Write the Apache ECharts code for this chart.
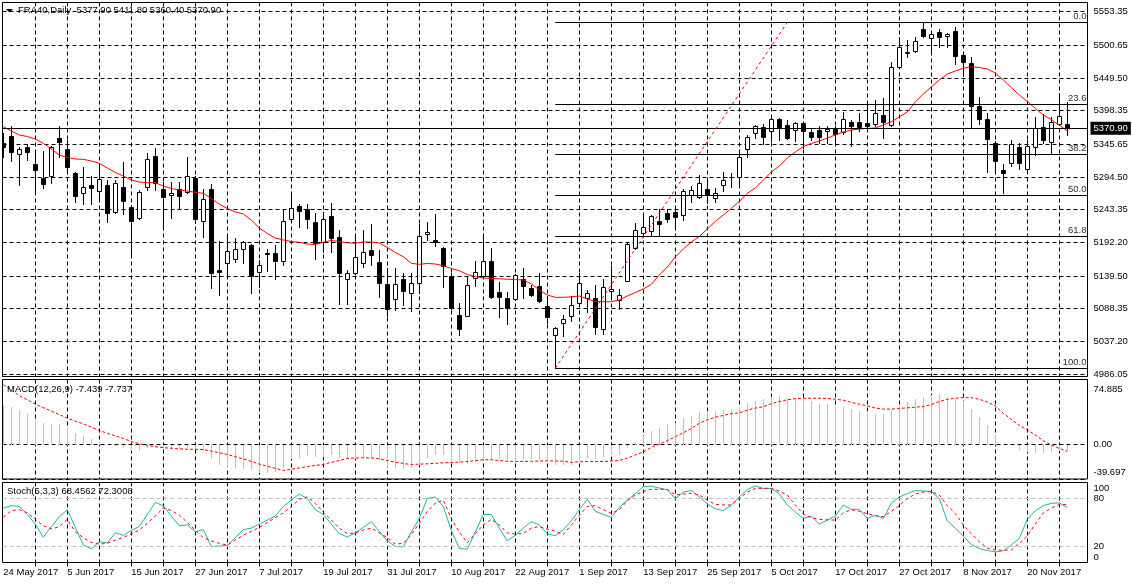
<!DOCTYPE html>
<html><head><meta charset="utf-8">
<script src="https://cdn.jsdelivr.net/npm/echarts@6/dist/echarts.min.js"></script>
<style>html,body{margin:0;padding:0;background:#fff}#c{width:1132px;height:584px}</style>
</head><body><div id="c"></div>
<script>
// ---------- DATA ----------
const opens = [5348.1,5358.6,5330.0,5341.4,5314.8,5292.4,5296.0,5356.0,5338.7,5300.2,
5268.9,5281.9,5273.0,5281.9,5240.1,5279.2,5247.0,5229.7,5279.2,5327.3,
5275.2,5265.8,5275.2,5271.4,5292.4,5226.0,5275.2,5148.8,5159.3,5166.5,
5181.2,5187.9,5145.2,5175.9,5174.9,5162.4,5228.6,5249.0,5243.8,5224.0,
5193.1,5233.3,5200.0,5134.7,5143.6,5159.3,5179.6,5161.3,5126.9,5102.9,
5134.7,5113.2,5128.9,5204.7,5195.3,5182.8,5139.9,5078.3,5077.2,5136.7,
5139.9,5162.9,5114.3,5104.9,5103.8,5135.2,5121.0,5123.7,5092.4,5047.0,
5065.3,5076.7,5096.6,5104.5,5104.5,5055.9,5115.4,5101.8,5132.0,5182.8,
5206.3,5210.3,5226.0,5238.5,5239.6,5234.4,5266.3,5262.6,5275.2,5261.1,
5281.9,5294.4,5294.0,5337.8,5362.9,5373.2,5366.5,5385.2,5375.9,5368.0,
5378.5,5364.4,5368.0,5366.5,5369.1,5365.4,5381.0,5380.1,5378.5,5377.0,
5391.1,5375.9,5466.2,5489.1,5491.7,5525.7,5511.6,5521.5,5515.2,5523.1,
5485.5,5472.5,5405.6,5385.2,5347.2,5304.9,5316.8,5341.9,5306.5,5340.9,
5372.3,5349.7,5377.0,5377.9];
const highs = [5363.3,5374.3,5341.9,5346.1,5331.5,5335.1,5343.0,5374.3,5352.4,5302.0,
5310.5,5296.5,5310.5,5289.7,5289.7,5317.4,5250.6,5274.0,5331.5,5339.8,
5287.1,5287.1,5286.1,5325.3,5296.0,5275.6,5283.5,5194.2,5202.0,5198.4,
5194.2,5189.0,5164.4,5181.7,5187.9,5242.7,5267.8,5252.1,5252.1,5238.5,
5240.1,5254.2,5211.4,5148.8,5202.0,5211.4,5220.3,5180.1,5151.4,5151.4,
5143.6,5144.5,5220.3,5223.5,5236.0,5185.3,5144.1,5096.6,5138.3,5162.9,
5203.6,5182.8,5130.5,5114.8,5142.1,5151.4,5125.3,5143.6,5108.5,5060.0,
5078.3,5108.1,5143.6,5117.5,5125.3,5134.2,5155.0,5118.6,5191.5,5221.9,
5234.9,5234.9,5243.8,5243.8,5243.8,5275.2,5280.8,5297.6,5288.2,5276.7,
5302.7,5301.2,5332.5,5360.2,5375.9,5377.0,5388.9,5387.3,5383.7,5381.0,
5381.0,5370.7,5374.8,5374.3,5374.3,5396.7,5383.7,5395.1,5408.7,5415.0,
5417.7,5474.5,5513.2,5509.0,5514.1,5537.6,5521.5,5525.7,5519.5,5528.8,
5488.1,5482.8,5419.2,5394.2,5351.3,5314.3,5352.4,5347.2,5352.4,5388.9,
5392.6,5388.9,5426.4,5411.8];
const lows = [5326.2,5319.9,5281.9,5321.0,5271.4,5277.7,5285.5,5326.2,5300.2,5255.7,
5252.1,5252.1,5257.3,5224.4,5238.5,5236.5,5170.7,5228.0,5274.1,5274.1,
5216.6,5229.7,5243.8,5269.4,5222.9,5200.9,5120.1,5109.7,5138.3,5161.8,
5159.3,5112.3,5122.6,5147.7,5135.2,5156.6,5228.0,5215.7,5215.0,5165.5,
5177.4,5177.4,5095.5,5095.5,5142.5,5153.0,5156.1,5106.5,5076.7,5086.1,
5094.0,5085.0,5113.2,5195.8,5186.8,5122.6,5087.0,5047.0,5076.0,5123.7,
5138.3,5105.0,5075.6,5064.2,5102.0,5105.4,5108.1,5099.1,5066.3,4994.8,
5045.9,5069.4,5096.0,5083.5,5048.1,5048.1,5108.1,5087.2,5131.0,5182.0,
5200.9,5202.0,5202.0,5224.4,5216.6,5227.1,5255.7,5261.1,5254.2,5255.7,
5272.5,5279.2,5281.9,5326.2,5355.0,5346.1,5350.8,5352.4,5353.5,5351.3,
5339.4,5352.4,5347.2,5347.2,5349.7,5361.8,5343.4,5366.5,5369.1,5374.3,
5355.0,5374.3,5464.6,5481.9,5490.6,5513.2,5486.6,5498.5,5498.5,5470.9,
5452.6,5373.2,5377.0,5302.7,5301.8,5268.9,5312.1,5306.5,5305.4,5328.9,
5347.2,5330.4,5375.9,5360.4];
const closes = [5341.9,5334.0,5338.3,5333.1,5305.4,5283.9,5341.4,5349.7,5310.5,5265.1,
5278.3,5276.7,5290.8,5237.6,5284.6,5257.3,5226.0,5270.5,5322.1,5285.5,
5263.6,5268.9,5265.1,5296.0,5228.6,5259.5,5143.6,5146.1,5178.5,5181.2,
5192.6,5139.9,5156.1,5173.4,5163.3,5225.0,5245.4,5241.6,5229.1,5190.6,
5229.1,5199.4,5143.6,5143.6,5168.7,5177.0,5171.8,5128.0,5087.2,5126.4,
5116.4,5128.0,5202.0,5208.3,5192.6,5155.0,5088.8,5056.4,5124.8,5146.1,
5162.9,5106.5,5106.0,5088.8,5140.5,5124.2,5109.6,5100.7,5075.6,5057.5,
5071.6,5093.5,5128.0,5112.3,5060.0,5121.7,5119.0,5109.2,5189.5,5211.4,
5216.6,5233.3,5221.3,5228.2,5232.2,5272.5,5274.1,5284.6,5266.3,5269.8,
5289.7,5295.2,5326.2,5357.5,5374.3,5357.5,5384.8,5372.3,5355.0,5378.5,
5366.5,5357.5,5357.5,5369.1,5361.8,5384.8,5374.3,5372.7,5374.8,5394.2,
5380.1,5466.2,5497.5,5490.2,5507.9,5515.2,5518.4,5514.1,5517.9,5484.4,
5474.0,5406.1,5384.8,5353.5,5319.9,5300.2,5346.1,5315.9,5343.4,5371.6,
5352.4,5380.1,5390.4,5370.9];
const maValues = [5373.2,5366.5,5360.2,5357.8,5353.9,5347.2,5338.3,5328.9,5325.0,5322.6,
5322.1,5319.5,5315.9,5308.5,5301.5,5296.0,5289.7,5286.6,5285.5,5285.5,
5280.3,5276.4,5274.1,5272.5,5270.5,5268.9,5260.7,5252.1,5245.1,5239.6,
5236.5,5227.1,5214.6,5205.9,5198.9,5195.8,5193.4,5192.2,5189.5,5188.7,
5192.2,5195.0,5193.4,5191.4,5190.7,5192.6,5192.6,5191.1,5184.0,5176.2,
5169.6,5159.3,5157.7,5159.0,5158.2,5155.5,5151.1,5147.7,5141.7,5138.3,
5136.3,5135.5,5135.0,5134.4,5133.7,5133.1,5126.9,5117.5,5109.6,5106.0,
5106.0,5106.8,5108.1,5103.4,5099.5,5099.1,5099.1,5101.8,5108.1,5113.5,
5119.0,5126.1,5140.9,5153.5,5169.1,5181.7,5192.6,5201.2,5213.0,5224.7,
5234.9,5245.1,5256.1,5268.9,5277.2,5289.7,5302.2,5311.6,5324.2,5333.6,
5342.2,5346.9,5350.8,5355.5,5360.2,5364.9,5368.0,5369.6,5370.4,5371.2,
5375.8,5381.0,5388.4,5396.2,5411.9,5424.4,5435.4,5446.3,5455.7,5460.4,
5464.6,5467.1,5465.9,5463.5,5457.3,5446.3,5434.6,5422.8,5412.7,5401.7,
5391.5,5384.5,5375.8,5366.5];
const macdMain = [46.0,42.9,39.5,34.9,29.5,24.5,23.4,23.4,19.9,13.0,
9.6,6.5,2.7,0.5,-1.5,-3.8,-6.9,-6.9,-3.8,-3.1,
-3.8,-4.2,-4.6,-3.8,-5.0,-6.9,-16.5,-23.4,-26.8,-26.8,
-28.0,-29.9,-33.0,-33.0,-31.8,-26.8,-16.5,-15.3,-13.4,-14.6,
-14.6,-11.5,-15.3,-16.5,-16.5,-15.3,-15.3,-19.0,-26.1,-26.8,
-28.0,-26.8,-24.1,-15.3,-11.5,-11.5,-20.3,-21.5,-22.2,-20.3,
-17.6,-16.5,-16.5,-18.4,-18.4,-16.5,-16.5,-17.6,-18.4,-23.0,
-24.1,-23.0,-18.4,-15.3,-16.5,-14.6,-12.6,-11.5,-3.8,2.7,
10.3,15.3,19.2,23.8,24.5,30.3,33.3,37.2,38.3,38.3,
39.5,40.6,42.9,47.5,50.6,52.1,54.8,55.6,54.0,54.0,
52.1,50.2,47.1,46.4,44.4,43.3,41.4,38.7,36.8,35.6,
34.9,39.5,44.4,48.7,52.1,54.8,56.7,57.9,54.8,52.1,
50.2,41.4,31.8,22.6,10.7,1.5,-0.5,-6.5,-8.5,-9.5,
-10.0,-8.5,-7.0,-7.439];
const macdSignal = [69.0,62.5,56.5,51.5,46.7,42.5,38.5,34.5,30.5,27.0,
23.8,20.0,16.1,13.0,10.0,7.0,3.5,1.0,-1.0,-2.5,
-3.6,-4.3,-5.0,-5.4,-5.6,-5.7,-7.5,-9.5,-11.5,-14.0,
-16.5,-19.5,-22.5,-25.0,-27.5,-29.9,-28.5,-27.0,-25.5,-24.0,
-23.0,-20.5,-18.4,-16.2,-15.5,-15.3,-15.5,-16.3,-18.5,-20.3,
-21.8,-23.0,-22.6,-22.2,-21.6,-21.1,-20.7,-20.3,-19.5,-18.5,
-17.5,-17.5,-18.4,-19.3,-19.5,-19.5,-19.3,-19.0,-18.8,-19.0,
-19.2,-20.5,-19.8,-19.5,-19.5,-19.5,-19.0,-18.4,-15.7,-12.0,
-8.5,-3.5,0.5,4.5,9.0,13.5,18.5,24.5,28.5,31.5,
33.5,35.5,36.5,39.5,42.0,43.5,47.0,49.5,51.5,52.8,
53.3,53.3,53.3,53.0,52.2,51.0,48.5,46.5,44.5,42.0,
40.8,40.8,41.4,42.3,43.0,43.7,46.0,49.5,52.0,53.3,
54.0,54.0,52.1,49.0,44.4,36.0,29.0,22.0,17.0,11.0,
4.5,-0.5,-4.5,-7.737];
const stochK = [68,71,70,60,48,31.5,45,57,66,44,
22,17,26,24.5,37,34,40,45,60,75,
71,58,46,47,38.5,41,20,20.5,21.5,31,
41,43,48,53,58,70,78,85.5,80,66,
60,48,36,32,37,44,51,39,27,20,
19.6,38,55,80,82,70,40,17.5,16.7,38,
60,60,43,27,34,43,51,47,36,33.5,
41,52,66,79,64,60,56.4,69,78,86,
94.8,95.5,93,91,79.5,88,90,82,73,67,
65,71.5,82,91,95.7,92.5,92.5,86,72,63,
55,58,48,53,58,71.8,66.4,66.5,55,59,
55,74,82,86,89.8,89.5,88.6,80,52,43,
33,22.5,17.5,15,13.3,14.6,22,30,54,64.7,
71,74,74.5,68.4562];
const stochD = [56.5,65,66,62,54,46,42,44.7,53.9,38.4,
31,25,23,24,28,31.3,36,40.5,49,58,
68,65,59.3,50,40.5,31,27,24,21.7,28,
34.2,39,43.8,50,56,62,70,79,82,74,
63,53,43,36,37,40.5,43,37,31,23,
24,35,49,64,74,78,55,38,24.6,36,
47,54,47,37,35.5,36.3,43,45,41.5,39,
35,47,59,70,71,66,61.4,66,77,84.4,
89,91.5,91.5,91.5,84.4,85.5,86.5,84.4,78,72.7,
72,71.8,80,88,92.5,92.8,92.8,89,84.4,72,
60.6,56,53.9,53.3,53,62,66,64,61,58.5,
57.2,64,71,80,85.5,88,88.6,84.4,71,61.4,
47,36,26,18,15.5,15.4,15.4,24,33,48,
62,68,72.5,72.3008];
const dateLabels = ['24 May 2017','5 Jun 2017','15 Jun 2017','27 Jun 2017','7 Jul 2017','19 Jul 2017',
'31 Jul 2017','10 Aug 2017','22 Aug 2017','1 Sep 2017','13 Sep 2017','25 Sep 2017','5 Oct 2017',
'17 Oct 2017','27 Oct 2017','8 Nov 2017','20 Nov 2017'];
const priceTickLabels = ['5553.35','5500.65','5449.50','5398.35','5345.65','5294.50','5243.35',
'5192.20','5139.50','5088.35','5037.20','4986.05'];
const macdTickLabels = ['74.885','0.00','-39.697'];
const stochTickLabels = ['100','80','20','0'];
const fibLevels = [0, 23.6, 38.2, 50, 61.8, 100];
const fibLevelLabels = ['0.0','23.6','38.2','50.0','61.8','100.0'];
const fibHigh = 5536.7, fibLow = 4994.8;
const fibStartBar = 69, fibTrendEndBar = 98;
const lastPrice = 5370.90;
const stochLevels = [80, 20];
const titleMain = 'FRA40,Daily  5377.90 5411.80 5360.40 5370.90';
const titleMacd = 'MACD(12,26,9) -7.439 -7.737';
const titleStoch = 'Stoch(5,3,3) 68.4562 72.3008';

// ---------- CHART ----------
const FONT = 'Liberation Sans';
const FS = 9.5;
const xMin = -0.1, xMax = 135.525;
const priceMin = 4982.0, priceMax = 5567.7;
const gridTicks = []; for (let k = 4; k <= 132; k += 4) gridTicks.push(k);
const dateTicks = dateLabels.map((_, k) => k * 8);
const priceTicks = priceTickLabels.map(Number);
const macdTicks = macdTickLabels.map(Number);
const stochTicks = stochTickLabels.map(Number);
const dash = [4, 3];

function lookup(vals, labels, minVal, maxVal) {
  return v => {
    for (let k = 0; k < vals.length; k++) {
      if (Math.abs(vals[k] - v) < 1e-6) {
        if (maxVal == null) return labels[k];
        if (Math.abs(v - maxVal) < 1e-6) return '{mx|' + labels[k] + '}';
        if (Math.abs(v - minVal) < 1e-6) return '{mn|' + labels[k] + '}';
        return '{n|' + labels[k] + '}';
      }
    }
    return '';
  };
}
function xAxisFor(gi, bottom) {
  return {
    type: 'value', gridIndex: gi, min: xMin, max: xMax,
    axisLine: { show: false },
    axisTick: { show: bottom, customValues: gridTicks, length: 4, lineStyle: { color: '#000' } },
    axisLabel: { show: bottom, customValues: dateTicks, formatter: v => dateLabels[Math.round(v / 8)] || '',
      align: 'left', margin: 5, fontFamily: FONT, fontSize: FS, color: '#000' },
    splitLine: { show: true, lineStyle: { color: '#000', type: dash, width: 1 } }
  };
}
function yAxisFor(gi, min, max, ticks, labels, split, edgeInside, maxLH, minLH) {
  const lab = { customValues: ticks, formatter: edgeInside ? lookup(ticks, labels, min, max) : lookup(ticks, labels),
      margin: 6, fontFamily: FONT, fontSize: FS, color: '#000', showMinLabel: true, showMaxLabel: true, hideOverlap: false,
      rich: {
        mx: { fontFamily: FONT, fontSize: FS, color: '#000', lineHeight: maxLH || 12 },
        mn: { fontFamily: FONT, fontSize: FS, color: '#000', lineHeight: minLH || 12 },
        n: { fontFamily: FONT, fontSize: FS, color: '#000', lineHeight: 6 }
      } };
  if (edgeInside) { lab.verticalAlignMaxLabel = 'bottom'; lab.verticalAlignMinLabel = 'top'; }
  else { lab.verticalAlignMaxLabel = 'middle'; lab.verticalAlignMinLabel = 'middle'; }
  return {
    type: 'value', gridIndex: gi, position: 'right', min: min, max: max,
    axisLine: { show: false },
    axisTick: { show: true, customValues: ticks, length: 3, lineStyle: { color: '#000' } },
    axisLabel: lab,
    splitLine: { show: split, lineStyle: { color: '#000', type: dash, width: 1 } }
  };
}

const candleData = opens.map((o, i) => [i, o, highs[i], lows[i], closes[i]]);
function renderCandle(params, api) {
  const i = api.value(0), o = api.value(1), h = api.value(2), l = api.value(3), c = api.value(4);
  const pO = api.coord([i, o]), pC = api.coord([i, c]), pH = api.coord([i, h]), pL = api.coord([i, l]);
  const cx = Math.floor(pO[0]) + 0.5;
  const yTop = Math.round(Math.min(pO[1], pC[1]));
  const yBot = Math.round(Math.max(pO[1], pC[1]));
  const up = c >= o;
  return { type: 'group', children: [
    { type: 'line', shape: { x1: cx, y1: Math.round(pH[1]), x2: cx, y2: Math.round(pL[1]) + 1 },
      style: { stroke: '#000', lineWidth: 1 } },
    { type: 'rect', shape: { x: cx - 2, y: yTop + 0.5, width: 4, height: Math.max(yBot - yTop, 0) },
      style: { fill: up ? '#fff' : '#000', stroke: '#000', lineWidth: 1 } }
  ]};
}
function renderHist(params, api) {
  const i = api.value(0), v = api.value(1);
  const p0 = api.coord([i, 0]), p1 = api.coord([i, v]);
  const cx = Math.floor(p0[0]) + 0.5;
  return { type: 'line', shape: { x1: cx, y1: Math.round(p0[1]), x2: cx, y2: Math.round(p1[1]) },
    style: { stroke: '#c0c0c0', lineWidth: 1 } };
}

const fibLines = fibLevels.map((lv, k) => {
  const p = fibHigh - (fibHigh - fibLow) * lv / 100;
  const lab = { show: true, position: 'insideEndTop', formatter: fibLevelLabels[k], distance: [1, 1],
    color: '#2b2b4b', fontFamily: FONT, fontSize: FS };
  return [{ coord: [fibStartBar, p], lineStyle: { color: '#000', type: 'solid', width: 1 }, label: lab },
          { coord: [xMax, p] }];
});

const option = {
  animation: false,
  backgroundColor: '#fff',
  grid: [
    { left: 2.5, top: 2.5, width: 1085, height: 374, show: true, borderColor: '#000', borderWidth: 1, backgroundColor: 'transparent' },
    { left: 2.5, top: 379.5, width: 1085, height: 99.5, show: true, borderColor: '#000', borderWidth: 1, backgroundColor: 'transparent' },
    { left: 2.5, top: 482.5, width: 1085, height: 80, show: true, borderColor: '#000', borderWidth: 1, backgroundColor: 'transparent' }
  ],
  xAxis: [xAxisFor(0, false), xAxisFor(1, false), xAxisFor(2, true)],
  yAxis: [
    yAxisFor(0, priceMin, priceMax, priceTicks, priceTickLabels, true, false),
    yAxisFor(1, -39.697, 74.885, macdTicks, macdTickLabels, true, true, 20, 14),
    yAxisFor(2, 0, 100, stochTicks, stochTickLabels, false, true, 12, 10)
  ],
  series: [
    { type: 'custom', xAxisIndex: 0, yAxisIndex: 0, data: candleData, renderItem: renderCandle,
      encode: { x: 0, y: [1, 2, 3, 4] }, clip: true, silent: true, z: 3 },
    { type: 'line', xAxisIndex: 0, yAxisIndex: 0, data: maValues.map((v, i) => [i, v]),
      symbol: 'none', lineStyle: { color: '#ff0000', width: 1 }, silent: true, z: 4,
      markLine: { silent: true, symbol: ['none', 'none'], animation: false,
        data: [
          { yAxis: lastPrice, lineStyle: { color: '#000', type: 'solid', width: 1 },
            label: { show: true, position: 'end', formatter: lastPrice.toFixed(2), color: '#fff',
              backgroundColor: '#000', padding: [2, 3, 1, 3], distance: 3, fontFamily: FONT, fontSize: FS } },
          ...fibLines,
          [{ coord: [fibStartBar, fibLow], lineStyle: { color: '#ff0000', type: [3, 3], width: 1 }, label: { show: false } },
           { coord: [fibTrendEndBar, fibHigh] }]
        ] } },
    { type: 'custom', xAxisIndex: 1, yAxisIndex: 1, data: macdMain.map((v, i) => [i, v]), renderItem: renderHist,
      encode: { x: 0, y: 1 }, silent: true, z: 3 },
    { type: 'line', xAxisIndex: 1, yAxisIndex: 1, data: macdSignal.map((v, i) => [i, v]),
      symbol: 'none', lineStyle: { color: '#ff0000', width: 1, type: [3, 2] }, silent: true, z: 4 },
    { type: 'line', xAxisIndex: 2, yAxisIndex: 2, data: stochK.map((v, i) => [i, v]),
      symbol: 'none', lineStyle: { color: '#20b2aa', width: 1 }, silent: true, z: 4,
      markLine: { silent: true, symbol: ['none', 'none'], animation: false, label: { show: false },
        lineStyle: { color: '#c0c0c0', type: [4, 3], width: 1 },
        data: stochLevels.map(v => ({ yAxis: v })) } },
    { type: 'line', xAxisIndex: 2, yAxisIndex: 2, data: stochD.map((v, i) => [i, v]),
      symbol: 'none', lineStyle: { color: '#ff0000', width: 1, type: [3, 3] }, silent: true, z: 5 }
  ],
  graphic: [
    { type: 'polygon', shape: { points: [[6, 9], [13, 9], [9.5, 12.5]] }, style: { fill: '#000' }, z: 100 },
    { type: 'text', x: 18, y: 10, style: { text: titleMain, fill: '#000', fontFamily: FONT, fontSize: FS, verticalAlign: 'middle' }, z: 100 },
    { type: 'text', x: 7, y: 389, style: { text: titleMacd, fill: '#000', fontFamily: FONT, fontSize: FS, verticalAlign: 'middle' }, z: 100 },
    { type: 'text', x: 7, y: 491, style: { text: titleStoch, fill: '#000', fontFamily: FONT, fontSize: FS, verticalAlign: 'middle' }, z: 100 }
  ]
};
const chart = echarts.init(document.getElementById('c'), null, { renderer: 'canvas' });
chart.setOption(option);
</script>
</body></html>
